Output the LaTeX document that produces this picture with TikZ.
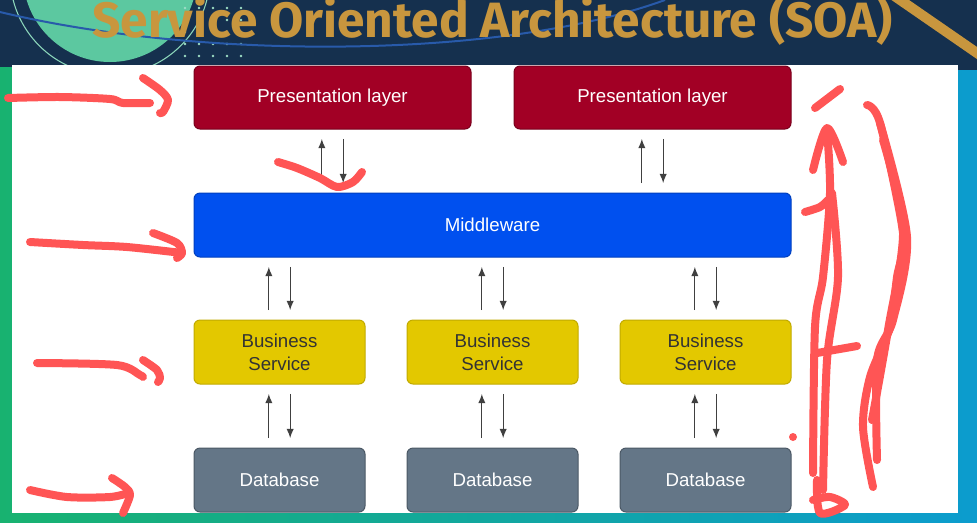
\documentclass[tikz,border=0pt]{standalone}
\usepackage{fontspec}
\setmainfont{Liberation Sans}
\newfontfamily\titlefont{Fira Sans}
\usetikzlibrary{arrows.meta,calc}
\definecolor{navy}{RGB}{21,48,78}
\definecolor{gold}{RGB}{200,150,62}
\definecolor{presred}{RGB}{162,0,37}
\definecolor{mwblue}{RGB}{0,80,239}
\definecolor{bizyel}{RGB}{227,200,0}
\definecolor{dbgray}{RGB}{100,118,135}
\definecolor{inkred}{RGB}{255,85,85}
\definecolor{leftgreen}{RGB}{24,178,112}
\definecolor{rightblue}{RGB}{12,156,206}
\definecolor{tealc}{RGB}{92,200,160}
\definecolor{curveblue}{RGB}{40,90,170}
\begin{document}
\begin{tikzpicture}[x=0.75pt,y=-0.75pt,
  box/.style={rounded corners=4.5pt, draw, line width=0.75pt, inner sep=0pt,
    font=\fontsize{14}{17}\selectfont, align=center},
  pres/.style={box, fill=presred, draw=presred!75!black, text=white,
    minimum width=207.75pt, minimum height=47.25pt},
  mware/.style={box, fill=mwblue, draw=mwblue!80!black, text=white,
    minimum width=447.75pt, minimum height=48pt},
  biz/.style={box, fill=bizyel, draw=bizyel!85!black, text=black!80,
    minimum width=128.25pt, minimum height=48pt},
  dbase/.style={box, fill=dbgray, draw=dbgray!75!black, text=white,
    minimum width=128.25pt, minimum height=48pt},
  arr/.style={draw=black!75, line width=0.9pt, -{Latex[length=7pt,width=5.5pt]},
    shorten >=7pt, shorten <=7pt},
  ink/.style={draw=inkred, line width=6pt, line cap=round, line join=round}]
\useasboundingbox (0,0) rectangle (977,522);
% background
\shade[left color=leftgreen, right color=rightblue] (0,0) rectangle (977,522);
\fill[navy] (0,0) rectangle (977,67);
\fill[navy] (930,0) rectangle (977,70);
\fill[tealc] (110,-25) circle (87);
\draw[tealc!70!white, line width=0.8pt] (110,-25) circle (100);
\foreach \i in {0,...,4}{\foreach \j in {0,...,4}{
  \fill[tealc!60!white] (185+\i*14,8+\j*12) circle (1.3);}}
\draw[curveblue, line width=1.5pt] (0,12) .. controls (200,60) and (500,60) .. (665,0);
\draw[gold, line width=7.5pt] (893,-5) -- (990,62);
\node[font=\titlefont\bfseries\fontsize{37.2}{40}\selectfont, text=gold, anchor=base] (title) at (492.5,37) {Service Oriented Architecture (SOA)};
% white panel
\fill[white] (12,65) rectangle (958,513);
% nodes
\node[pres] (p1) at (332.5,97.5) {Presentation layer};
\node[pres] (p2) at (652.5,97.5) {Presentation layer};
\node[mware] (mw) at (492.5,225) {Middleware};
\node[biz] (b1) at (279.5,352) {Business\\Service};
\node[biz] (b2) at (492.5,352) {Business\\Service};
\node[biz] (b3) at (705.5,352) {Business\\Service};
\node[dbase] (d1) at (279.5,480) {Database};
\node[dbase] (d2) at (492.5,480) {Database};
\node[dbase] (d3) at (705.5,480) {Database};
% connectors
\foreach \p in {p1,p2}{
  \draw[arr] ([xshift=-8pt]\p.south |- mw.north) -- ([xshift=-8pt]\p.south);
  \draw[arr] ([xshift=8pt]\p.south) -- ([xshift=8pt]\p.south |- mw.north);}
\foreach \b/\d in {b1/d1,b2/d2,b3/d3}{
  \draw[arr] ([xshift=-8pt]\b.north) -- ([xshift=-8pt]\b.north |- mw.south);
  \draw[arr] ([xshift=8pt]\b.north |- mw.south) -- ([xshift=8pt]\b.north);
  \draw[arr] ([xshift=-8pt]\d.north) -- ([xshift=-8pt]\b.south);
  \draw[arr] ([xshift=8pt]\b.south) -- ([xshift=8pt]\d.north);}
% red annotations
\draw[ink] plot[smooth] coordinates {(8,98) (60,97) (110,99) (123,103) (150,103)};
\draw[ink] plot[smooth] coordinates {(143,78) (160,90) (168,100) (163,112) (160,113)};
\draw[ink] plot[smooth] coordinates {(30,242) (83,245) (127,247) (182,253)};
\draw[ink] plot[smooth] coordinates {(153,233) (177,243) (182,253) (177,258)};
\draw[ink] plot[smooth] coordinates {(37,363) (117,365) (140,375) (143,377)};
\draw[ink] plot[smooth] coordinates {(143,360) (157,370) (160,378) (158,382)};
\draw[ink] plot[smooth] coordinates {(30,490) (67,497) (110,497) (128,493)};
\draw[ink] plot[smooth] coordinates {(112,478) (125,487) (130,495) (123,513)};
\draw[ink] plot[smooth] coordinates {(278,162) (297,168) (320,178) (337,187) (353,182) (362,172)};
\draw[ink] (815,108) -- (840,89);
\draw[ink] plot[smooth] coordinates {(813,473) (815,327) (823,277) (830,193) (827,130)};
\draw[ink] plot[smooth] coordinates {(813,170) (827,128) (843,162)};
\draw[ink] plot[smooth] coordinates {(823,490) (827,360) (838,277) (832,193)};
\draw[ink] plot[smooth] coordinates {(805,212) (820,207) (828,200)};
\draw[ink] (817,353) -- (857,346);
\fill[inkred] (793,437) circle (4);
\draw[ink] plot[smooth] coordinates {(817,480) (820,513) (845,505) (830,497) (813,500)};
\draw[ink] plot[smooth] coordinates {(867,105) (880,123) (903,233) (897,277) (890,327) (870,377) (863,427) (873,487)};
\draw[ink] plot[smooth] coordinates {(880,123) (907,237) (893,320) (877,360) (877,460)};
\draw[ink] plot[smooth] coordinates {(883,140) (903,230) (888,330) (872,420)};
\end{tikzpicture}
\end{document}
